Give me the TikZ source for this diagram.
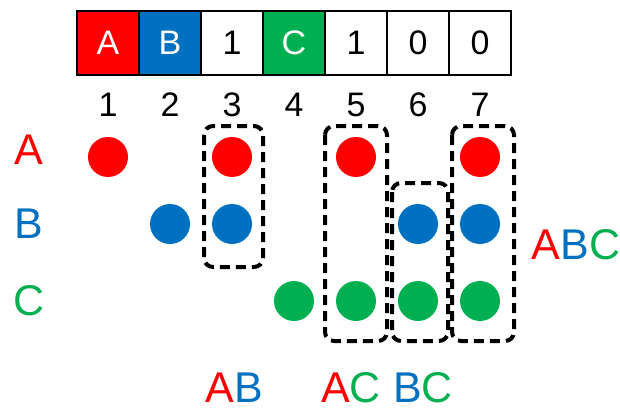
\documentclass[tikz,border=0pt]{standalone}
\usepackage{fontspec}
\setmainfont{Liberation Sans}
\definecolor{cred}{RGB}{255,0,0}
\definecolor{cblue}{RGB}{0,112,192}
\definecolor{cgreen}{RGB}{0,176,80}

\begin{document}
\begin{tikzpicture}[x=1pt,y=-1pt,
  cell/.style={draw,line width=2pt,minimum width=62pt,minimum height=64pt,inner sep=0pt,font=\fontsize{34}{40}\selectfont},
  num/.style={font=\fontsize{34}{40}\selectfont,inner sep=0pt},
  big/.style={font=\fontsize{43}{50}\selectfont,inner sep=0pt},
  dot/.style={circle,fill=#1,minimum size=40pt,inner sep=0pt},
  group/.style={draw,line width=4pt,dash pattern=on 10pt off 6pt,rounded corners=9pt}]
         \useasboundingbox (0,0) rectangle (620,409);
         % the array
         \foreach \i/\t/\c/\f in {1/A/cred/white,2/B/cblue/white,3/1/white/black,4/C/cgreen/white,5/1/white/black,6/0/white/black,7/0/white/black}
           \node[cell,fill=\c,text=\f] (cell\i) at ({108+62*(\i-1)},43) {\t};
         \foreach \i in {1,...,7}
           \node[num] (num\i) at ({108+62*(\i-1)},105) {\i};
         % rows
         \node[big,text=cred] (rowA) at (29,150) {A};
         \node[big,text=cblue] (rowB) at (29,224) {B};
         \node[big,text=cgreen] (rowC) at (29,301) {C};
         \foreach \k/\r/\c/\y in {1/A/cred/157,3/A/cred/157,5/A/cred/157,7/A/cred/157,
                                  2/B/cblue/224,3/B/cblue/224,6/B/cblue/224,7/B/cblue/224,
                                  4/C/cgreen/301,5/C/cgreen/301,6/C/cgreen/301,7/C/cgreen/301}
           \node[dot=\c] (dot\r\k) at ({108+62*(\k-1)},\y) {};
         % groups
         \draw[group] (204,126) rectangle (263,267);
         \draw[group] (325,126) rectangle (387,341);
         \draw[group] (392,183) rectangle (448,341);
         \draw[group] (452,126) rectangle (514,341);
         \node[big] (lblABC) at (576,245) {\textcolor{cred}{A}\textcolor{cblue}{B}\textcolor{cgreen}{C}};
         \node[big] (lblAB) at (234,388) {\textcolor{cred}{A}\textcolor{cblue}{B}};
         \node[big] (lblAC) at (351,388) {\textcolor{cred}{A}\textcolor{cgreen}{C}};
         \node[big] (lblBC) at (423,388) {\textcolor{cblue}{B}\textcolor{cgreen}{C}};
\end{tikzpicture}
\end{document}
